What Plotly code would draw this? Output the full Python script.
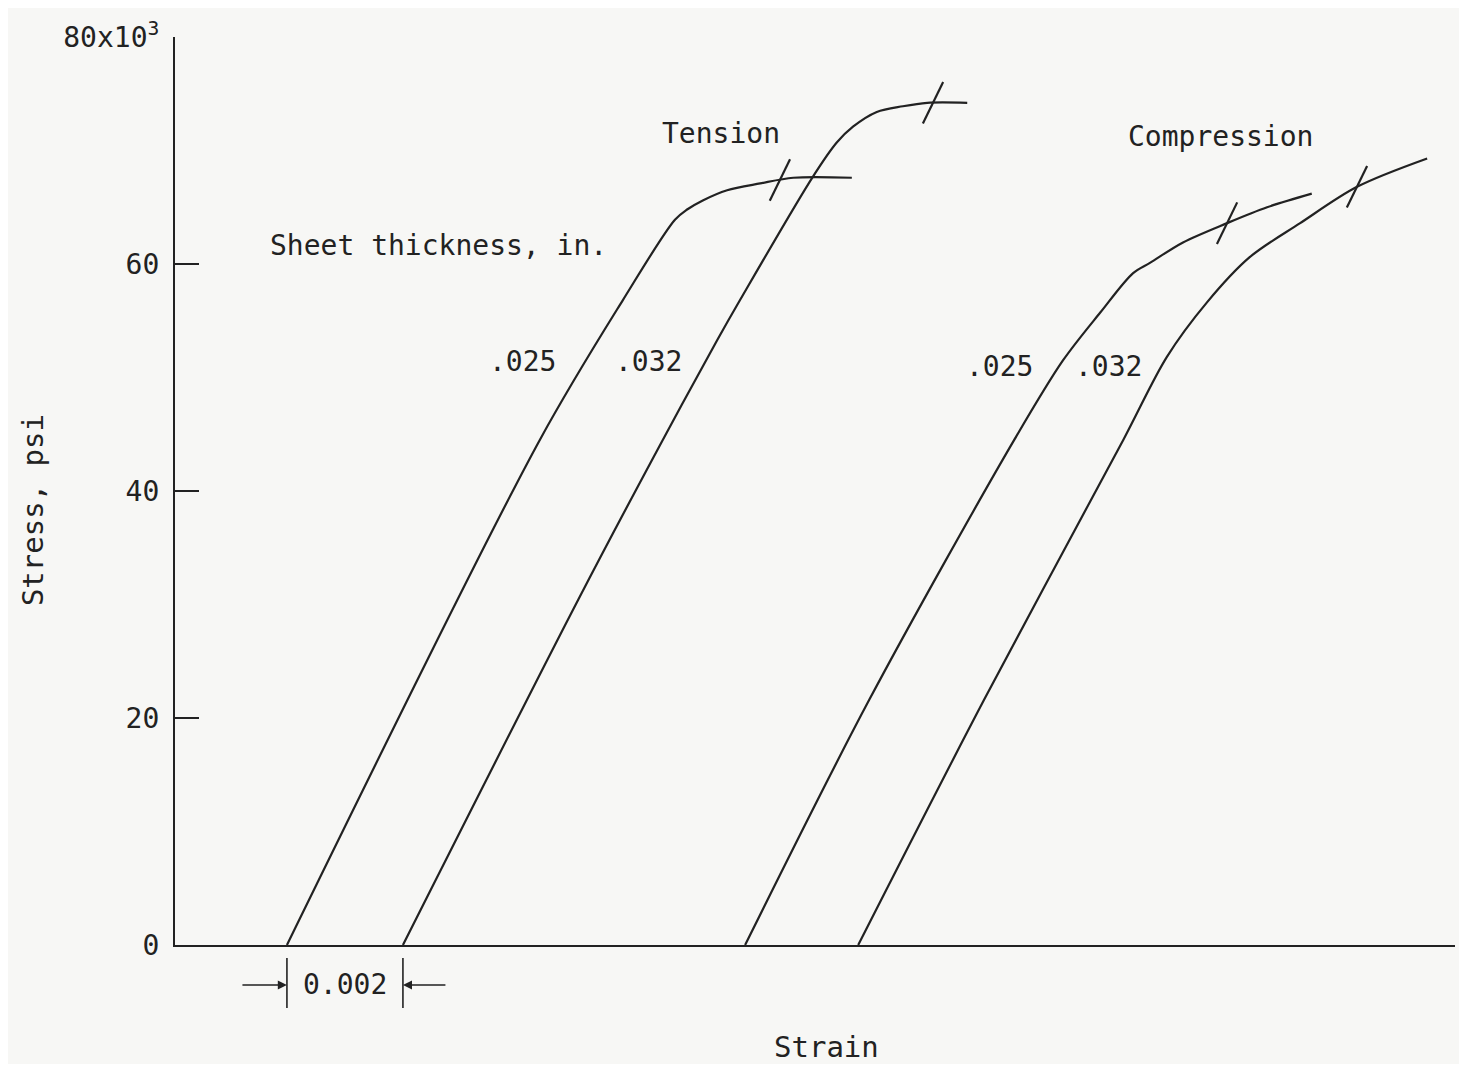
import plotly.graph_objects as go

# ---------------- data (strain in units of 0.001, stress in ksi) ----------------
t025_strain = [1.93, 6.29, 7.72, 8.62, 8.83, 9.10, 9.52, 10.09, 10.66, 11.67]
t025_stress = [0.0, 44.5, 56.8, 63.9, 64.8, 65.6, 66.5, 67.1, 67.6, 67.6]

t032_strain = [3.93, 6.95, 8.41, 9.35, 9.74, 11.00, 11.41, 11.69, 12.10, 12.55, 12.97, 13.66]
t032_stress = [0.0, 30.4, 44.5, 53.3, 56.8, 67.7, 70.7, 72.1, 73.4, 73.9, 74.2, 74.2]

c025_strain = [9.83, 11.97, 14.47, 15.31, 15.95, 16.52, 16.81, 17.38, 18.14, 18.83, 19.60]
c025_stress = [0.0, 21.6, 44.5, 51.5, 55.7, 59.2, 60.1, 61.9, 63.6, 65.0, 66.2]

c032_strain = [11.78, 13.95, 16.35, 17.10, 17.79, 18.53, 19.40, 20.38, 21.59]
c032_stress = [0.0, 21.6, 44.5, 51.8, 56.6, 60.6, 63.6, 66.8, 69.3]

# short marks across each curve
mark_strain = [10.43, 13.07, 18.14, 20.38]
mark_stress = [67.4, 74.2, 63.6, 66.8]

y_tickvals = [0, 20, 40, 60, 80]
y_ticktext = ["0", "20", "40", "60", "80x10<sup>3</sup>"]

curve_labels = [".025", ".032", ".025", ".032"]
label_strain = [6.00, 8.17, 14.21, 16.09]
label_stress = [51.4, 51.4, 51.0, 51.0]

group_labels = ["Tension", "Compression"]
group_strain = [9.41, 18.03]
group_stress = [71.5, 71.2]

# ---------------- styling ----------------
INK = "#222222"
BG = "#f7f7f5"
FONT = "DejaVu Sans Mono"

fig = go.Figure()
for xs, ys in [(t025_strain, t025_stress), (t032_strain, t032_stress),
               (c025_strain, c025_stress), (c032_strain, c032_stress)]:
    fig.add_trace(go.Scatter(x=xs, y=ys, mode="lines",
                             line=dict(color=INK, width=2.2, shape="spline", smoothing=0.9),
                             hoverinfo="skip", showlegend=False))

fig.add_trace(go.Scatter(x=mark_strain, y=mark_stress, mode="markers",
                         marker=dict(symbol="line-ns", size=33, angle=26,
                                     line=dict(width=2.2, color=INK)),
                         hoverinfo="skip", showlegend=False))

annotations = []
for t, x, y in zip(curve_labels, label_strain, label_stress):
    annotations.append(dict(x=x, y=y, xref="x", yref="y", text=t, showarrow=False,
                            xanchor="center", yanchor="middle",
                            font=dict(family=FONT, size=28, color=INK)))
for t, x, y in zip(group_labels, group_strain, group_stress):
    annotations.append(dict(x=x, y=y, xref="x", yref="y", text=t, showarrow=False,
                            xanchor="center", yanchor="middle",
                            font=dict(family=FONT, size=28, color=INK)))
annotations.append(dict(x=1.60, y=61.6, xref="x", yref="y", text="Sheet thickness, in.",
                        xanchor="left", yanchor="middle", showarrow=False,
                        font=dict(family=FONT, size=28, color=INK)))

# axis titles
annotations.append(dict(x=-0.1109, y=0.479, xref="paper", yref="paper", text="Stress, psi",
                        textangle=-90, showarrow=False, xanchor="center", yanchor="middle",
                        font=dict(family=FONT, size=29, color=INK)))
annotations.append(dict(x=0.5086, y=-0.1123, xref="paper", yref="paper", text="Strain",
                        showarrow=False, xanchor="center", yanchor="middle",
                        font=dict(family=FONT, size=29, color=INK)))

# 0.002 dimension
x_a = t025_strain[0]
x_b = t032_strain[0]
dim_y = -0.044
annotations.append(dict(x=(x_a + x_b) / 2, y=dim_y, xref="x", yref="paper", text="0.002",
                        showarrow=False, xanchor="center", yanchor="middle",
                        font=dict(family=FONT, size=28, color=INK)))
annotations.append(dict(x=x_a, y=dim_y, xref="x", yref="paper", text="", showarrow=True,
                        ax=-46, ay=0, arrowhead=2, arrowsize=1.3, arrowwidth=1.4,
                        arrowcolor=INK, standoff=0))
annotations.append(dict(x=x_b, y=dim_y, xref="x", yref="paper", text="", showarrow=True,
                        ax=44, ay=0, arrowhead=2, arrowsize=1.3, arrowwidth=1.4,
                        arrowcolor=INK, standoff=0))

shapes = []
for xv in (x_a, x_b):
    shapes.append(dict(type="line", xref="x", yref="paper", x0=xv, x1=xv,
                       y0=-0.0143, y1=-0.0694, line=dict(color=INK, width=1.6)))

# page body has an 8px default margin; size the figure so the axes land where the reference has them
fig.update_layout(
    width=1451, height=1056,
    margin=dict(l=167, r=4, t=29, b=119),
    paper_bgcolor=BG, plot_bgcolor=BG,
    annotations=annotations, shapes=shapes,
    font=dict(family=FONT, size=28, color=INK),
)
fig.update_xaxes(range=[0, 22.07], showline=True, linecolor=INK, linewidth=2.2,
                 showgrid=False, zeroline=False, showticklabels=False, ticks="")
fig.update_yaxes(range=[0, 80], tickvals=y_tickvals, ticktext=y_ticktext,
                 showline=True, linecolor=INK, linewidth=2.2, ticks="inside",
                 ticklen=24, tickwidth=2.2, tickcolor=INK, ticklabelstandoff=8,
                 showgrid=False, zeroline=False,
                 tickfont=dict(family=FONT, size=28, color=INK))

fig.write_html("out.html")
